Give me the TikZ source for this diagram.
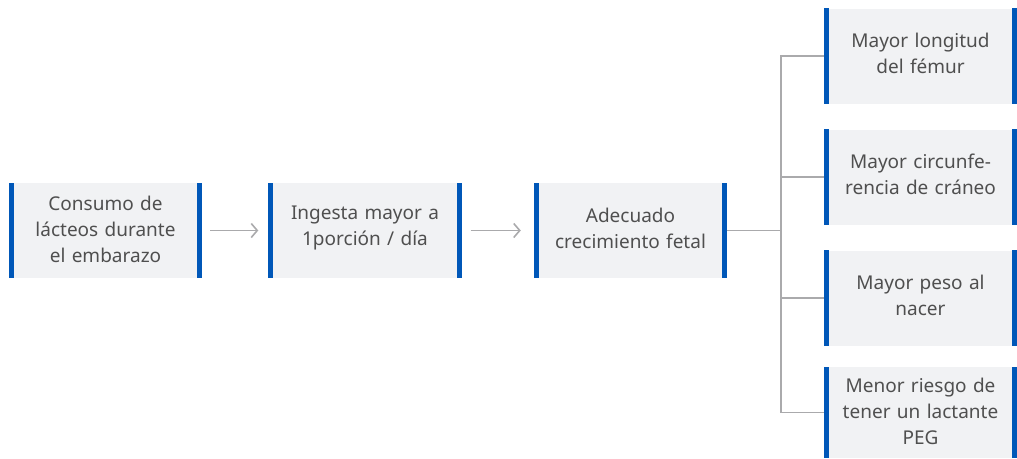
\documentclass[tikz,border=0pt]{standalone}
\usepackage{fontspec}
\setmainfont{Noto Sans}
\usetikzlibrary{arrows.meta}
\definecolor{boxgray}{HTML}{F1F2F4}
\definecolor{barblue}{HTML}{0057B8}
\definecolor{txtgray}{HTML}{4F4F4F}
\definecolor{linegray}{HTML}{AAAAAC}
\tikzset{
  stepbox/.style={fill=boxgray, minimum width=193pt, minimum height=95pt, inner sep=0pt},
  txt/.style={inner sep=0pt, text width=180pt, align=center, text=txtgray,
    font=\fontsize{19}{26}\selectfont},
  conn/.style={draw=linegray, line width=1.6pt},
  arr/.style={conn, -{Straight Barb[length=6pt,width=14pt,line width=1.6pt]}},
}
\newcommand{\bars}[1]{%
  \fill[barblue] (#1.north west) rectangle ([xshift=5pt]#1.south west);
  \fill[barblue] ([xshift=-5pt]#1.north east) rectangle (#1.south east);}
\begin{document}
\begin{tikzpicture}[x=1pt,y=-1pt]
\useasboundingbox (0,0) rectangle (1017,458);
\node[stepbox] (a) at (105.5,230.5) {};
\node[stepbox] (b) at (365,230.5) {};
\node[stepbox] (c) at (630.5,230.5) {};
\node[stepbox] (r1) at (920.5,56) {};
\node[stepbox] (r2) at (920.5,177) {};
\node[stepbox] (r3) at (920.5,298) {};
\node[stepbox, minimum height=91pt] (r4) at (920.5,412.5) {};
\foreach \n in {a,b,c,r1,r2,r3,r4} {\bars{\n}}
\node[txt] (at) at ([yshift=1pt]a.center) {Consumo de\\lácteos durante\\el embarazo};
\node[txt] (bt) at ([yshift=2.5pt]b.center) {Ingesta mayor a\\1porción / día};
\node[txt] (ct) at ([yshift=2.5pt]c.center) {Adecuado\\crecimiento fetal};
\node[txt] (r1t) at ([yshift=2.5pt]r1.center) {Mayor longitud\\del fémur};
\node[txt] (r2t) at ([yshift=2.5pt]r2.center) {Mayor circunfe-\\rencia de cráneo};
\node[txt] (r3t) at ([yshift=2.5pt]r3.center) {Mayor peso al\\nacer};
\node[txt] (r4t) at ([yshift=1.5pt]r4.center) {Menor riesgo de\\tener un lactante\\PEG};
\coordinate (j) at (781,230.5);
\draw[arr] ([xshift=8pt]a.east) -- ([xshift=-10pt]b.west);
\draw[arr] ([xshift=9pt]b.east) -- ([xshift=-13pt]c.west);
\draw[conn] (c.east) -- (j);
\draw[conn] (r1.west) -| (j) |- (r4.west);
\draw[conn] (r2.west) -- (r2.west -| j);
\draw[conn] (r3.west) -- (r3.west -| j);
\end{tikzpicture}
\end{document}
